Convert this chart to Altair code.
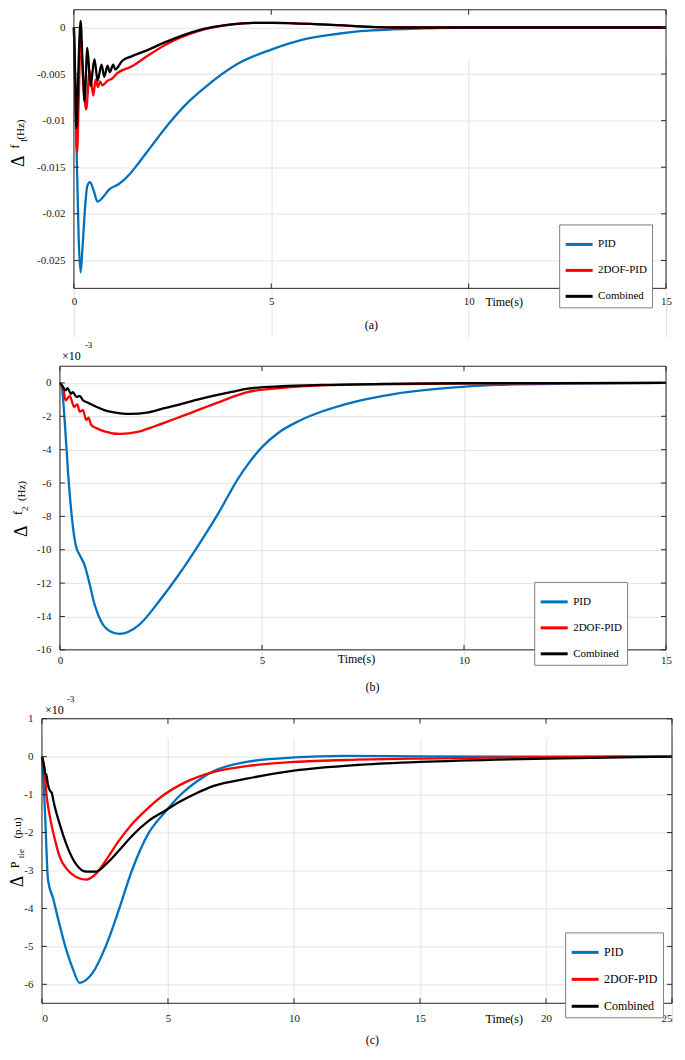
import altair as alt
import pandas as pd

SERIF = "Liberation Serif"
AX = "#262626"
SERIES = ["PID", "2DOF-PID", "Combined"]
COLORS = ["#0072BD", "#FF0000", "#000000"]

# ---------------- Panel (a): delta f1 (Hz) ----------------
a_pid_t = [0, 0.04, 0.07, 0.12, 0.17, 0.22, 0.28, 0.34, 0.41, 0.50, 0.60, 0.70, 0.89, 1.14, 1.4, 1.63, 1.88, 2.15, 2.45, 2.85, 3.3, 4.15, 4.98, 5.8, 6.65, 7.25, 8.1, 8.9, 10, 12, 15]
a_pid_v = [0, -0.0075, -0.0134, -0.0225, -0.0263, -0.0235, -0.0195, -0.0170, -0.0166, -0.0175, -0.0187, -0.0184, -0.0174, -0.0168, -0.0158, -0.0146, -0.0132, -0.0117, -0.0101, -0.0082, -0.0065, -0.0039, -0.0024, -0.0013, -0.0007, -0.0004, -0.0002, -0.0001, 0, 0, 0]

a_dof_t = [0, 0.04, 0.08, 0.12, 0.17, 0.24, 0.31, 0.40, 0.49, 0.55, 0.61, 0.66, 0.72, 0.86, 0.96, 1.1, 1.46, 1.88, 2.3, 3.15, 3.95, 4.55, 5.05, 6.4, 8.1, 10, 15]
a_dof_v = [0, -0.008, -0.0134, -0.008, -0.0012, -0.006, -0.0088, -0.0046, -0.0073, -0.0056, -0.0064, -0.0058, -0.0062, -0.0057, -0.0055, -0.0049, -0.0042, -0.0030, -0.0019, -0.0004, 0.0003, 0.0005, 0.0005, 0.0003, 0.0, 0, 0]

a_cmb_t = [0, 0.03, 0.066, 0.11, 0.17, 0.22, 0.27, 0.34, 0.42, 0.52, 0.60, 0.70, 0.77, 0.85, 0.91, 0.995, 1.05, 1.22, 1.46, 1.88, 2.3, 3.15, 3.95, 4.55, 5.05, 6.4, 8.1, 10, 15]
a_cmb_v = [0, -0.005, -0.0108, -0.005, 0.0007, -0.004, -0.0079, -0.0022, -0.0063, -0.0034, -0.0057, -0.0040, -0.0053, -0.0041, -0.0048, -0.0040, -0.0045, -0.0036, -0.0031, -0.0024, -0.0016, -0.0003, 0.0003, 0.0005, 0.0005, 0.0003, 0.0, 0, 0]

# ---------------- Panel (b): delta f2 (x1e-3 Hz) ----------------
b_pid_t = [0, 0.04, 0.12, 0.2, 0.29, 0.39, 0.49, 0.61, 0.72, 0.86, 1.02, 1.23, 1.47, 1.96, 2.45, 2.94, 3.43, 3.92, 4.41, 4.66, 5.0, 5.4, 5.9, 6.5, 7.1, 8.3, 9.6, 10.8, 12.5, 15]
b_pid_v = [0, -0.14, -2.34, -5.33, -7.92, -9.72, -10.32, -10.92, -11.9, -13.3, -14.3, -14.87, -15.05, -14.5, -13.1, -11.5, -9.72, -7.82, -5.73, -4.85, -3.85, -3.0, -2.3, -1.7, -1.25, -0.65, -0.3, -0.12, -0.04, 0]

b_dof_t = [0, 0.08, 0.14, 0.245, 0.35, 0.43, 0.49, 0.57, 0.65, 0.71, 0.77, 0.9, 1.1, 1.5, 1.92, 2.33, 2.9, 3.84, 4.66, 5.5, 6.5, 8, 10, 15]
b_dof_v = [0, -0.3, -1.04, -0.78, -1.43, -1.29, -1.73, -1.63, -2.22, -2.08, -2.51, -2.71, -2.9, -3.06, -2.94, -2.61, -2.1, -1.24, -0.54, -0.3, -0.15, -0.08, -0.03, 0]

b_cmb_t = [0, 0.08, 0.14, 0.19, 0.27, 0.32, 0.41, 0.49, 0.57, 0.69, 0.9, 1.1, 1.5, 1.75, 2.15, 2.56, 2.82, 3.43, 4.25, 4.66, 5.5, 6.5, 8, 10, 15]
b_cmb_v = [0, -0.25, -0.45, -0.31, -0.65, -0.55, -0.84, -0.78, -1.04, -1.18, -1.43, -1.63, -1.82, -1.86, -1.78, -1.53, -1.38, -0.98, -0.54, -0.34, -0.2, -0.12, -0.06, -0.02, 0]

# ---------------- Panel (c): delta P_tie (x1e-3 p.u) ----------------
c_pid_t = [0, 0.13, 0.18, 0.24, 0.45, 0.65, 0.97, 1.23, 1.49, 2.01, 2.53, 3.05, 3.57, 4.22, 4.87, 5.52, 6.17, 6.82, 8.12, 10, 12, 15, 20, 25]
c_pid_v = [0, -1.6, -2.47, -3.25, -3.75, -4.3, -5.1, -5.6, -5.96, -5.7, -5.0, -4.04, -3.0, -2.03, -1.47, -0.99, -0.64, -0.38, -0.14, -0.02, 0.02, 0.01, 0, 0]

c_dof_t = [0, 0.1, 0.18, 0.32, 0.52, 0.71, 0.97, 1.36, 1.75, 2.14, 2.53, 3.05, 3.57, 4.22, 4.87, 5.52, 6.17, 6.82, 8.12, 10, 12.5, 15, 20, 25]
c_dof_v = [0, -0.4, -1.0, -1.6, -2.2, -2.65, -2.95, -3.17, -3.24, -3.09, -2.74, -2.22, -1.78, -1.35, -0.99, -0.73, -0.54, -0.40, -0.25, -0.14, -0.08, -0.05, -0.01, 0]

c_cmb_t = [0, 0.05, 0.1, 0.13, 0.17, 0.24, 0.32, 0.39, 0.45, 0.71, 0.97, 1.36, 1.75, 2.14, 2.53, 3.05, 3.57, 4.22, 4.87, 5.52, 6.17, 6.82, 8.12, 10, 12.5, 15, 20, 25]
c_cmb_v = [0, -0.12, -0.3, -0.45, -0.47, -0.75, -0.9, -0.95, -1.15, -1.79, -2.31, -2.84, -3.03, -3.03, -2.84, -2.48, -2.09, -1.7, -1.43, -1.17, -0.95, -0.77, -0.58, -0.37, -0.22, -0.14, -0.05, 0]


def long_df(groups):
    rows = []
    for name, ts, vs in groups:
        for t, v in zip(ts, vs):
            rows.append({"series": name, "t": t, "v": v})
    return pd.DataFrame(rows)


ONE = pd.DataFrame({"k": [0]})
VIEW_W = 666


def txt(s, x, y, size, angle=0, align="center", baseline="middle"):
    return alt.Chart(ONE).mark_text(
        text=s, font=SERIF, fontSize=size, angle=angle, align=align,
        baseline=baseline, color="black"
    ).encode(x=alt.value(x), y=alt.value(y))


def panel(df, view_h, box, xdom, xticks, ydom, yticks, legend_xy, legend_font,
          legend_row, label_pad_x, flush, texts):
    L, R, T, B = box
    X = alt.X("t:Q", scale=alt.Scale(domain=xdom, range=[L, R], nice=False, zero=False),
              axis=alt.Axis(values=xticks, title=None, orient="bottom", offset=-(view_h - B),
                            labelPadding=label_pad_x, labelFont=SERIF, labelFontSize=11,
                            labelFlush=flush))
    Y = alt.Y("v:Q", scale=alt.Scale(domain=ydom, range=[B, T], nice=False, zero=False),
              axis=alt.Axis(values=yticks, title=None, orient="left", offset=-L,
                            labelExpr="toString(datum.value)", labelPadding=9,
                            labelFont=SERIF, labelFontSize=11))
    legend = alt.Legend(
        orient="none", legendX=legend_xy[0], legendY=legend_xy[1], title=None,
        symbolType="stroke", symbolStrokeWidth=3, symbolSize=729,
        labelFont=SERIF, labelFontSize=legend_font, labelColor="black",
        fillColor="white", strokeColor="#7f7f7f", padding=5, rowPadding=legend_row,
        labelOffset=4, labelExpr="datum.label + '          '"
    )
    color = alt.Color("series:N", scale=alt.Scale(domain=SERIES, range=COLORS), legend=legend)
    lines = [
        alt.Chart(df).transform_filter(alt.datum.series == s)
        .mark_line(strokeWidth=2.3, interpolate="monotone")
        .encode(x=X, y=Y, color=color)
        for s in SERIES
    ]
    frame = alt.Chart(ONE).mark_rect(fillOpacity=0, stroke=AX, strokeWidth=1).encode(
        x=alt.value(L), x2=alt.value(R), y=alt.value(T), y2=alt.value(B))
    xt = pd.DataFrame({"t": xticks})
    yt = pd.DataFrame({"v": yticks})
    ticks = [
        alt.Chart(xt).mark_rule(color=AX).encode(x=X, y=alt.value(T), y2=alt.value(T + 5)),
        alt.Chart(xt).mark_rule(color=AX).encode(x=X, y=alt.value(B), y2=alt.value(B - 5)),
        alt.Chart(yt).mark_rule(color=AX).encode(y=Y, x=alt.value(L), x2=alt.value(L + 5)),
        alt.Chart(yt).mark_rule(color=AX).encode(y=Y, x=alt.value(R), x2=alt.value(R - 5)),
    ]
    annots = [txt(*a) for a in texts]
    return alt.layer(*lines, frame, *ticks, *annots).properties(width=VIEW_W, height=view_h)


df_a = long_df([("PID", a_pid_t, a_pid_v), ("2DOF-PID", a_dof_t, a_dof_v), ("Combined", a_cmb_t, a_cmb_v)])
df_b = long_df([("PID", b_pid_t, b_pid_v), ("2DOF-PID", b_dof_t, b_dof_v), ("Combined", b_cmb_t, b_cmb_v)])
df_c = long_df([("PID", c_pid_t, c_pid_v), ("2DOF-PID", c_dof_t, c_dof_v), ("Combined", c_cmb_t, c_cmb_v)])

pa = panel(
    df_a, 330, (66, 659, 1, 280), [0, 15], [0, 5, 10, 15], [-0.028, 0.0019],
    [0, -0.005, -0.01, -0.015, -0.02, -0.025], (552, 216), 11, 5, 7, False,
    [("Δ", 11, 152.7, 18, 270), ("f", 7, 138, 12, 270), ("1", 16, 132, 9, 270),
     ("(Hz)", 13, 121, 11, 270),
     ("Time(s)", 497, 294, 12), ("(a)", 364, 317, 12)],
)
pb = panel(
    df_b, 356, (52, 659, 28, 312), [0, 15], [0, 5, 10, 15], [-16, 1],
    [0, -2, -4, -6, -8, -10, -12, -14, -16], (527, 244), 11, 5, 5, False,
    [("Δ", 13.7, 193.3, 18, 270), ("f", 9.7, 175, 12, 270), ("2", 17, 170.7, 9, 270),
     ("(Hz)", 14, 153, 11, 270), ("×10", 54, 18, 12, 0, "left"), ("-3", 77, 7, 9, 0, "left"),
     ("Time(s)", 349, 321, 12), ("(b)", 365, 349, 12)],
)
pc = panel(
    df_c, 354, (34, 665, 25, 310), [0, 25], [0, 5, 10, 15, 20, 25], [-6.5, 1],
    [1, 0, -1, -2, -3, -4, -5, -6], (558, 239), 12, 6, 9, True,
    [("Δ", 10, 188, 18, 270), ("P", 6.7, 171.5, 12, 270), ("tie", 13.3, 160, 9, 270),
     ("(p.u)", 10, 134.5, 11, 270), ("×10", 37, 16, 12, 0, "left"), ("-3", 59, 5, 9, 0, "left"),
     ("Time(s)", 497, 326, 12), ("(c)", 365, 347, 12)],
)

chart = (
    alt.vconcat(pa, pb, pc, spacing=0)
    .resolve_scale(x="independent", y="independent", color="independent")
    .resolve_legend(color="independent")
    .properties(padding={"left": 0, "top": 0, "right": 0, "bottom": 0})
    .configure_view(stroke="transparent", strokeWidth=0)
    .configure_axis(
        grid=True, gridColor="#e3e3e3", gridWidth=1, ticks=False, domain=False,
        labelFont=SERIF, labelFontSize=11, labelColor="#1a1a1a",
    )
)

chart.save("out.html", embed_options={"renderer": "svg", "actions": False})
